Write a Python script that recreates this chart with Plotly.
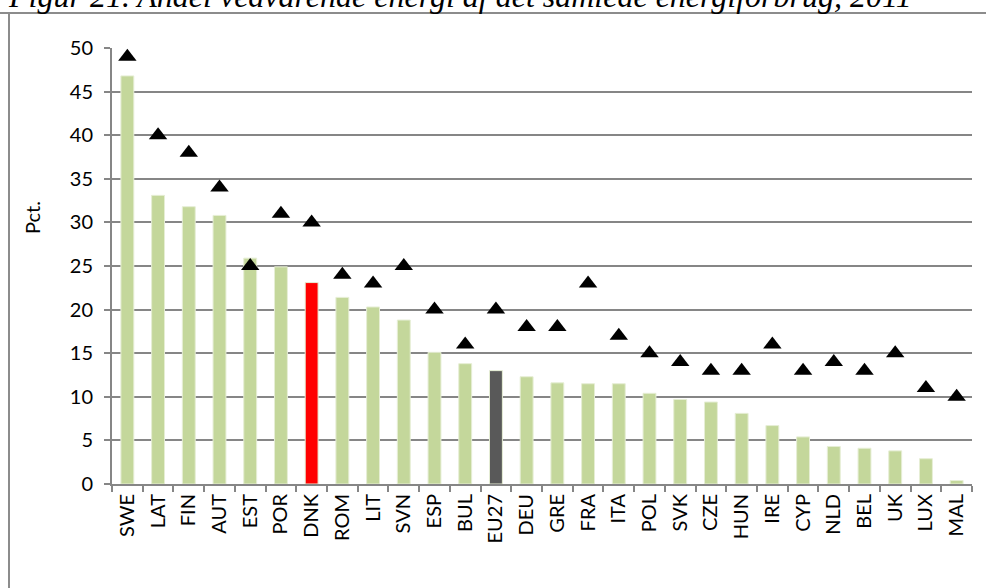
import plotly.graph_objects as go

countries = ["SWE", "LAT", "FIN", "AUT", "EST", "POR", "DNK", "ROM", "LIT", "SVN",
             "ESP", "BUL", "EU27", "DEU", "GRE", "FRA", "ITA", "POL", "SVK", "CZE",
             "HUN", "IRE", "CYP", "NLD", "BEL", "UK", "LUX", "MAL"]
share_2011 = [46.8, 33.1, 31.8, 30.8, 25.9, 24.9, 23.1, 21.4, 20.3, 18.8,
              15.1, 13.8, 13.0, 12.3, 11.6, 11.5, 11.5, 10.4, 9.7, 9.4,
              8.1, 6.7, 5.4, 4.3, 4.1, 3.8, 2.9, 0.4]
target_2020 = [49, 40, 38, 34, 25, 31, 30, 24, 23, 25,
               20, 16, 20, 18, 18, 23, 17, 15, 14, 13,
               13, 16, 13, 14, 13, 15, 11, 10]
y_ticks = [0, 5, 10, 15, 20, 25, 30, 35, 40, 45, 50]

colors = []
for c in countries:
    if c == "DNK":
        colors.append("#FF0000")
    elif c == "EU27":
        colors.append("#595959")
    else:
        colors.append("#C4D79B")

PW, PH = 860, 436  # plot area in px

fig = go.Figure()
fig.add_trace(go.Bar(
    x=countries, y=share_2011,
    marker=dict(color=colors, line=dict(color="#E6EED5", width=1)),
    width=0.42, showlegend=False, hoverinfo="x+y"))
fig.add_trace(go.Scatter(
    x=countries, y=target_2020, mode="markers",
    marker=dict(symbol="triangle-up", size=16, color="black"),
    showlegend=False))

fig.update_layout(
    width=986, height=588,
    margin=dict(l=112, r=14, t=48, b=104, pad=0),
    paper_bgcolor="white", plot_bgcolor="white",
    font=dict(family="Lato, Open Sans, sans-serif", size=20, color="black"),
    shapes=[
        dict(type="line", xref="paper", yref="paper",
             x0=-112 / PW, x1=1 + 14 / PW, y0=1 + 35 / PH, y1=1 + 35 / PH,
             line=dict(color="#8C8C8C", width=2)),
        dict(type="line", xref="paper", yref="paper",
             x0=-103 / PW, x1=-103 / PW, y0=1 + 35 / PH, y1=-104 / PH,
             line=dict(color="#8C8C8C", width=2)),
    ],
    annotations=[
        dict(text="<i>Figur 21. Andel vedvarende energi af det samlede energiforbrug, 2011</i>",
             xref="paper", yref="paper", x=-106 / PW, y=1 + 32 / PH,
             xanchor="left", yanchor="bottom", showarrow=False,
             font=dict(family="Liberation Serif, serif", size=32, color="black")),
        dict(text="Pct.", textangle=-90,
             xref="paper", yref="paper", x=-80 / PW, y=1 - 170 / PH,
             xanchor="center", yanchor="middle", showarrow=False,
             font=dict(size=20, color="black")),
    ],
)
fig.update_xaxes(
    type="category", tickangle=-90, showline=True, linecolor="#868686", linewidth=2,
    ticks="outside", ticklen=6, tickcolor="#868686", tickwidth=2,
    tickson="boundaries", showgrid=False, automargin=False,
    tickfont=dict(size=20), range=[-0.5, len(countries) - 0.5])
fig.update_yaxes(
    range=[0, 50], tickvals=y_ticks, showline=True, linecolor="#868686", linewidth=2,
    ticks="outside", ticklen=6, tickcolor="#868686", tickwidth=2,
    ticklabelstandoff=7,
    showgrid=True, gridcolor="#868686", gridwidth=1.5, zeroline=False,
    automargin=False, tickfont=dict(size=20))

fig.write_html("out.html", config={"displayModeBar": False},
               post_script="document.body.style.margin='0';document.body.style.padding='0';")
